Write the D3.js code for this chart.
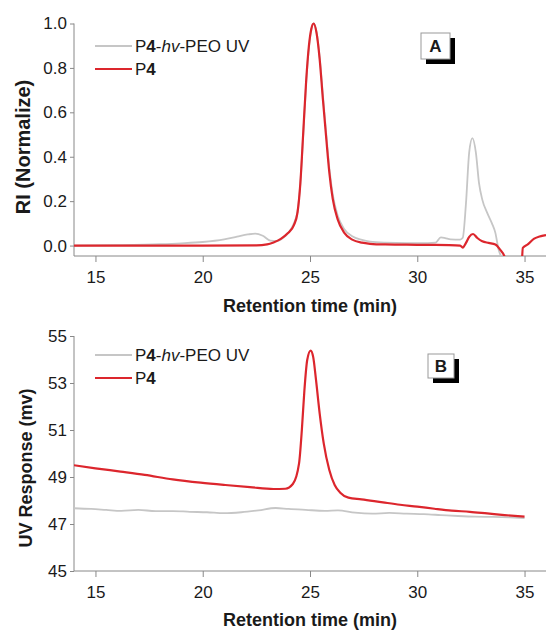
<!DOCTYPE html>
<html>
<head>
<meta charset="utf-8">
<script src="https://cdn.jsdelivr.net/npm/d3@7"></script>
<style>
  body { margin: 0; background: #fff; }
  svg text { font-family: Arial, "Liberation Sans", sans-serif; fill: #1a1a1a; }
</style>
</head>
<body>
<svg id="chart" width="546" height="631"></svg>
<script>
// panel A: RI trace (normalized)
const timeGrayA = [14, 16, 18, 19, 20, 21, 21.6, 22.1, 22.45, 22.8, 23.15, 23.45, 23.75, 24.0, 24.25, 24.42, 24.55, 24.68, 24.82, 24.95, 25.06, 25.17, 25.3, 25.45, 25.6, 25.76, 25.9, 26.06, 26.29, 26.59, 26.97, 27.42, 27.8, 28.5, 29.5, 30.5, 30.85, 31.1, 31.3, 31.55, 32.0, 32.12, 32.27, 32.42, 32.57, 32.73, 32.88, 33.03, 33.26, 33.48, 33.64, 33.79, 33.94, 34.2];
const riGrayA = [0, 0.002, 0.006, 0.01, 0.016, 0.028, 0.04, 0.05, 0.054, 0.044, 0.022, 0.02, 0.035, 0.058, 0.1, 0.155, 0.28, 0.49, 0.73, 0.89, 0.97, 1.0, 0.965, 0.85, 0.68, 0.5, 0.35, 0.23, 0.135, 0.075, 0.042, 0.026, 0.018, 0.013, 0.011, 0.011, 0.013, 0.037, 0.034, 0.028, 0.027, 0.035, 0.19, 0.42, 0.484, 0.42, 0.28, 0.207, 0.147, 0.1, 0.057, -0.018, -0.06, -0.2];

const timeRedA = [14, 20, 22.5, 23.0, 23.3, 23.64, 23.96, 24.25, 24.42, 24.55, 24.68, 24.82, 24.95, 25.06, 25.17, 25.3, 25.45, 25.6, 25.76, 25.9, 26.06, 26.29, 26.59, 26.97, 27.42, 27.8, 28.5, 29.5, 30.5, 31.5, 32.0, 32.12, 32.27, 32.42, 32.6, 32.8, 33.03, 33.33, 33.64, 33.86, 34.06, 34.3, 34.6, 34.85, 34.92, 35.15, 35.45, 35.7, 35.88, 36];
const riRedA = [0, 0, 0.001, 0.005, 0.014, 0.03, 0.055, 0.092, 0.15, 0.28, 0.5, 0.74, 0.9, 0.975, 1.0, 0.96, 0.84, 0.66, 0.48, 0.33, 0.21, 0.118, 0.058, 0.027, 0.013, 0.008, 0.005, 0.004, 0.003, 0.002, 0, -0.009, 0.012, 0.039, 0.052, 0.034, 0.019, 0.012, 0.005, -0.018, -0.048, -0.15, -0.2, -0.12, -0.01, 0.005, 0.031, 0.041, 0.045, 0.047];

// panel B: UV response (mv)
const timeGrayB = [14, 14.8, 15.5, 16.2, 17, 17.8, 18.6, 19.4, 20.2, 21, 21.8, 22.6, 23.4, 24.0, 24.8, 25.7, 26.3, 27.1, 27.9, 28.7, 29.5, 30.3, 31.1, 31.9, 32.7, 33.5, 34.3, 35];
const uvGrayB = [47.67, 47.64, 47.6, 47.56, 47.6, 47.55, 47.55, 47.52, 47.5, 47.46, 47.5, 47.58, 47.68, 47.64, 47.6, 47.56, 47.58, 47.48, 47.44, 47.47, 47.44, 47.42, 47.38, 47.34, 47.31, 47.3, 47.28, 47.25];

const timeRedB = [14, 15, 16.17, 17.3, 18.6, 19.9, 21.05, 22.2, 23.3, 23.85, 24.2, 24.49, 24.62, 24.74, 24.87, 25.03, 25.15, 25.28, 25.45, 25.64, 25.9, 26.15, 26.41, 26.79, 27.4, 28.4, 29.2, 30.0, 30.8, 31.6, 32.45, 33.26, 34.07, 35];
const uvRedB = [49.5, 49.37, 49.23, 49.09, 48.9, 48.76, 48.66, 48.57, 48.49, 48.5, 48.7, 49.58, 51.0, 52.7, 53.98, 54.38, 54.1, 53.13, 51.71, 50.43, 49.3, 48.66, 48.33, 48.12, 48.05, 47.92, 47.82, 47.74, 47.65, 47.57, 47.52, 47.45, 47.38, 47.31];

const xTicks = [15, 20, 25, 30, 35];
const yTicksA = [0.0, 0.2, 0.4, 0.6, 0.8, 1.0];
const yTicksB = [45, 47, 49, 51, 53, 55];

const GRAY = "#c6c6c6",
  RED = "#dc262d";

var svg = d3.select("#chart");

function zip(ts, vs) {
  return ts.map((t, i) => ({ t: t, v: vs[i] }));
}

function drawPanel(p) {
  var x = d3.scaleLinear().domain([14, 36]).range([74, 546]);
  var y = d3.scaleLinear().domain(p.yDomain).range([p.bottom, p.top]);

  var g = svg.append("g").attr("id", "panel" + p.label);

  g.append("clipPath")
    .attr("id", "clip" + p.label)
    .append("rect")
    .attr("x", 74)
    .attr("y", p.top - 10)
    .attr("width", 472)
    .attr("height", p.bottom - p.top + 10);

  // minor ticks every 5/6 min, like the original software
  var minorX = d3.range(-1, 26).map(k => 15 + (k * 5) / 6).filter(v => v > 14 && v < 36 && Math.abs(v - Math.round(v / 5) * 5) > 0.01);

  var xAxis = g.append("g").attr("transform", "translate(0," + p.bottom + ")");
  xAxis.call(d3.axisBottom(x).tickValues(minorX).tickSize(4).tickFormat(""));
  xAxis.call(d3.axisBottom(x).tickValues(xTicks).tickSize(6).tickPadding(9).tickFormat(d3.format("d")));
  xAxis.selectAll(".domain").attr("stroke", "#888").attr("d", "M74,0H546");
  xAxis.selectAll(".tick line").attr("stroke", "#888");
  xAxis.selectAll("text").attr("font-size", 17).attr("fill", "#1a1a1a");

  var yAxis = g.append("g").attr("transform", "translate(74,0)");
  yAxis.call(d3.axisLeft(y).tickValues(p.yMinor).tickSize(3).tickFormat(""));
  yAxis.call(d3.axisLeft(y).tickValues(p.yTicks).tickSize(4).tickPadding(3).tickFormat(p.fmt));
  yAxis.selectAll(".domain").attr("stroke", "#888").attr("d", "M0," + p.bottom + "V" + y(p.yTicks[p.yTicks.length - 1]));
  yAxis.selectAll(".tick line").attr("stroke", "#888");
  yAxis.selectAll("text").attr("font-size", 17).attr("fill", "#1a1a1a");

  var line = d3
    .line()
    .x(d => x(d.t))
    .y(d => y(d.v))
    .curve(d3.curveMonotoneX);

  var plot = g.append("g").attr("clip-path", "url(#clip" + p.label + ")");
  plot
    .append("path")
    .datum(p.gray)
    .attr("d", line)
    .attr("fill", "none")
    .attr("stroke", GRAY)
    .attr("stroke-width", 1.8);
  plot
    .append("path")
    .datum(p.red)
    .attr("d", line)
    .attr("fill", "none")
    .attr("stroke", RED)
    .attr("stroke-width", 2.2);

  // axis titles
  g.append("text")
    .attr("x", 310)
    .attr("y", p.xTitleY)
    .attr("text-anchor", "middle")
    .attr("font-size", 18)
    .attr("font-weight", "bold")
    .text("Retention time (min)");

  g.append("text")
    .attr("transform", "translate(" + p.yTitleX + "," + p.yTitleY + ") rotate(-90)")
    .attr("text-anchor", "middle")
    .attr("font-size", p.yTitleSize)
    .attr("font-weight", "bold")
    .text(p.yTitle);

  // legend
  [GRAY, RED].forEach(function(c, i) {
    var ly = p.legendY + i * 23;
    g.append("line")
      .attr("x1", 95)
      .attr("x2", 132)
      .attr("y1", ly)
      .attr("y2", ly)
      .attr("stroke", c)
      .attr("stroke-width", i ? 2.2 : 1.8);
    var t = g.append("text").attr("x", 135).attr("y", ly + 6).attr("font-size", 17);
    t.append("tspan").text("P");
    t.append("tspan").attr("font-weight", "bold").text("4");
    if (i == 0) {
      t.append("tspan").text("-");
      t.append("tspan").attr("font-style", "italic").text("hv");
      t.append("tspan").text("-PEO UV");
    }
  });

  // panel label box with drop shadow
  var b = p.box;
  g.append("rect").attr("x", b.x + 5).attr("y", b.y + 5).attr("width", b.w).attr("height", b.h).attr("fill", "#000");
  g.append("rect")
    .attr("x", b.x)
    .attr("y", b.y)
    .attr("width", b.w)
    .attr("height", b.h)
    .attr("fill", "#fff")
    .attr("stroke", "#999")
    .attr("stroke-width", 1);
  g.append("text")
    .attr("x", b.x + b.w / 2)
    .attr("y", b.y + b.h / 2 + 6)
    .attr("text-anchor", "middle")
    .attr("font-size", 17)
    .attr("font-weight", "bold")
    .text(p.label);
}

drawPanel({
  label: "A",
  yDomain: [-0.047, 1.0],
  top: 23.5,
  bottom: 256,
  yTicks: yTicksA,
  yMinor: [0.1, 0.3, 0.5, 0.7, 0.9],
  fmt: d3.format(".1f"),
  gray: zip(timeGrayA, riGrayA),
  red: zip(timeRedA, riRedA),
  yTitle: "RI (Normalize)",
  yTitleSize: 20,
  yTitleX: 30,
  yTitleY: 147,
  xTitleY: 312,
  legendY: 46,
  box: { x: 421, y: 33, w: 29, h: 26 }
});

drawPanel({
  label: "B",
  yDomain: [45, 55],
  top: 336,
  bottom: 571,
  yTicks: yTicksB,
  yMinor: [46, 48, 50, 52, 54],
  fmt: d3.format("d"),
  gray: zip(timeGrayB, uvGrayB),
  red: zip(timeRedB, uvRedB),
  yTitle: "UV Response (mv)",
  yTitleSize: 18,
  yTitleX: 32,
  yTitleY: 468,
  xTitleY: 626,
  legendY: 355,
  box: { x: 428, y: 354, w: 26, h: 24 }
});
</script>
</body>
</html>
